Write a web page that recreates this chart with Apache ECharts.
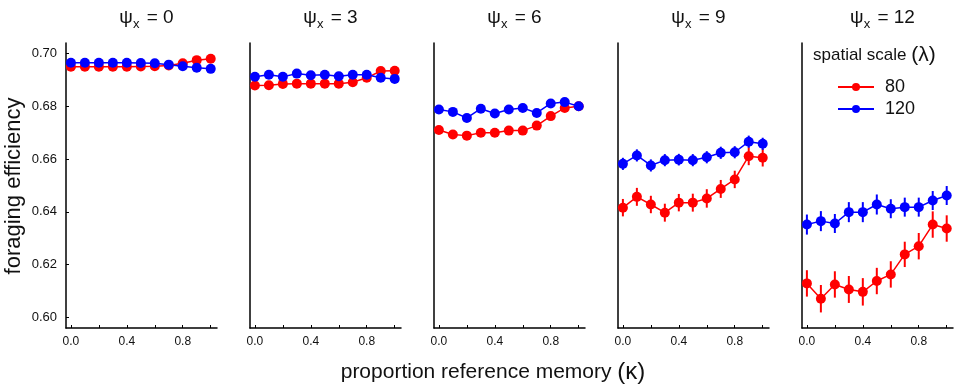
<!DOCTYPE html>
<html>
<head>
<meta charset="utf-8">
<script src="https://cdn.jsdelivr.net/npm/echarts@6/dist/echarts.min.js"></script>
<style>
  html, body { margin: 0; padding: 0; background: #fff; }
  #main { width: 957px; height: 387px; }
</style>
</head>
<body>
<div id="main"></div>
<script>
const kappa = [0, 0.1, 0.2, 0.3, 0.4, 0.5, 0.6, 0.7, 0.8, 0.9, 1.0];
const psiLabels = ['0', '3', '6', '9', '12'];
const xTicks = [0, 0.2, 0.4, 0.6, 0.8, 1.0];
const xTickLabels = [0, 0.4, 0.8];
const yTicks = [0.60, 0.62, 0.64, 0.66, 0.68, 0.70];

// lambda = 80 (red), one list per psi panel
const red0 = [0.6950, 0.6950, 0.6950, 0.6950, 0.6950, 0.6951, 0.6952, 0.6955, 0.6963, 0.6975, 0.6980];
const red3 = [0.6879, 0.6880, 0.6885, 0.6886, 0.6886, 0.6886, 0.6886, 0.6891, 0.6908, 0.6934, 0.6935];
const red6 = [0.6710, 0.6693, 0.6689, 0.6700, 0.6700, 0.6708, 0.6708, 0.6727, 0.6763, 0.6794, 0.6800];
const red9 = [0.6416, 0.6457, 0.6428, 0.6397, 0.6435, 0.6435, 0.6451, 0.6487, 0.6523, 0.6611, 0.6605];
const red12 = [0.6129, 0.6071, 0.6125, 0.6106, 0.6097, 0.6138, 0.6163, 0.6239, 0.6270, 0.6352, 0.6337];

// lambda = 120 (blue)
const blue0 = [0.6965, 0.6965, 0.6965, 0.6965, 0.6965, 0.6964, 0.6963, 0.6958, 0.6952, 0.6946, 0.6942];
const blue3 = [0.6912, 0.6920, 0.6912, 0.6924, 0.6918, 0.6920, 0.6914, 0.6920, 0.6920, 0.6908, 0.6904];
const blue6 = [0.6788, 0.6779, 0.6756, 0.6791, 0.6773, 0.6788, 0.6794, 0.6775, 0.6811, 0.6816, 0.6800];
const blue9 = [0.6582, 0.6614, 0.6576, 0.6596, 0.6598, 0.6596, 0.6607, 0.6624, 0.6626, 0.6666, 0.6658];
const blue12 = [0.6352, 0.6365, 0.6356, 0.6399, 0.6399, 0.6428, 0.6412, 0.6418, 0.6418, 0.6443, 0.6462];

// standard errors
const redErr0 = [0.0003, 0.0003, 0.0003, 0.0003, 0.0003, 0.0003, 0.0003, 0.0003, 0.0003, 0.0003, 0.0003];
const redErr3 = [0.0004, 0.0004, 0.0004, 0.0004, 0.0004, 0.0004, 0.0004, 0.0004, 0.0004, 0.0004, 0.0004];
const redErr6 = [0.0009, 0.0009, 0.0009, 0.0009, 0.0009, 0.0009, 0.0009, 0.0009, 0.0009, 0.0009, 0.0009];
const redErr9 = [0.0033, 0.0034, 0.0033, 0.0034, 0.0033, 0.0034, 0.0035, 0.0034, 0.0033, 0.0034, 0.0033];
const redErr12 = [0.0050, 0.0052, 0.0050, 0.0051, 0.0052, 0.0050, 0.0050, 0.0048, 0.0050, 0.0050, 0.0050];

const blueErr0 = [0.0003, 0.0003, 0.0003, 0.0003, 0.0003, 0.0003, 0.0003, 0.0003, 0.0003, 0.0003, 0.0003];
const blueErr3 = [0.0004, 0.0004, 0.0004, 0.0004, 0.0004, 0.0004, 0.0004, 0.0004, 0.0004, 0.0004, 0.0004];
const blueErr6 = [0.0007, 0.0007, 0.0007, 0.0007, 0.0007, 0.0007, 0.0007, 0.0007, 0.0007, 0.0007, 0.0007];
const blueErr9 = [0.0023, 0.0023, 0.0023, 0.0023, 0.0022, 0.0023, 0.0023, 0.0023, 0.0023, 0.0023, 0.0023];
const blueErr12 = [0.0038, 0.0038, 0.0036, 0.0038, 0.0038, 0.0038, 0.0036, 0.0036, 0.0036, 0.0036, 0.0036];

const redAll = [red0, red3, red6, red9, red12];
const blueAll = [blue0, blue3, blue6, blue9, blue12];
const redErrAll = [redErr0, redErr3, redErr6, redErr9, redErr12];
const blueErrAll = [blueErr0, blueErr3, blueErr6, blueErr9, blueErr12];

const RED = '#f00';
const BLUE = '#00f';
const FONT = 'Liberation Sans, Arial, sans-serif';

const lefts = [66, 250, 434, 618, 802];
const panelW = 151;

const chart = echarts.init(document.getElementById('main'));

const grids = lefts.map(l => ({left: l, top: 43, width: panelW, height: 285}));

const xAxes = lefts.map((l, i) => ({
  type: 'value',
  gridIndex: i,
  min: -0.035,
  max: 1.045,
  axisLine: {onZero: false, lineStyle: {color: '#000', width: 1.5}},
  axisTick: {show: true, inside: true, length: 3, customValues: xTicks, lineStyle: {color: '#000'}},
  axisLabel: {customValues: xTickLabels, formatter: v => v.toFixed(1), fontSize: 12, color: '#111', margin: 8, fontFamily: FONT},
  splitLine: {show: false}
}));

const yAxes = lefts.map((l, i) => ({
  type: 'value',
  gridIndex: i,
  min: 0.596,
  max: 0.704,
  axisLine: {show: true, onZero: false, lineStyle: {color: '#000', width: 1.5}},
  axisTick: {show: i === 0, inside: true, length: 3, customValues: yTicks, lineStyle: {color: '#000'}},
  axisLabel: {show: i === 0, customValues: yTicks, formatter: v => v.toFixed(2), fontSize: 13, color: '#111', margin: 9, fontFamily: FONT},
  splitLine: {show: false}
}));

function errorSeries(i, vals, errs, color) {
  return {
    type: 'custom',
    xAxisIndex: i,
    yAxisIndex: i,
    z: 1,
    silent: true,
    encode: {x: 0, y: [1, 2]},
    data: kappa.map((k, j) => [k, vals[j] - errs[j], vals[j] + errs[j]]),
    renderItem: (params, api) => {
      const lo = api.coord([api.value(0), api.value(1)]);
      const hi = api.coord([api.value(0), api.value(2)]);
      return {
        type: 'line',
        shape: {x1: lo[0], y1: lo[1], x2: hi[0], y2: hi[1]},
        style: {stroke: color, lineWidth: 2}
      };
    }
  };
}

function lineSeries(i, name, vals, color) {
  return {
    type: 'line',
    name: name,
    xAxisIndex: i,
    yAxisIndex: i,
    z: 2,
    symbol: 'circle',
    symbolSize: 10,
    color: color,
    lineStyle: {color: color, width: 1.5},
    itemStyle: {color: color},
    data: kappa.map((k, j) => [k, vals[j]])
  };
}

const series = [];
lefts.forEach((l, i) => {
  series.push(errorSeries(i, redAll[i], redErrAll[i], RED));
  series.push(errorSeries(i, blueAll[i], blueErrAll[i], BLUE));
  series.push(lineSeries(i, '80', redAll[i], RED));
  series.push(lineSeries(i, '120', blueAll[i], BLUE));
});

const titles = psiLabels.map((p, i) => ({
  text: '{g|ψ}{s|x}{g| = ' + p + '}',
  left: lefts[i] + panelW / 2,
  textAlign: 'center',
  top: 0,
  textStyle: {
    rich: {
      g: {fontSize: 19, fontWeight: 'normal', color: '#111', fontFamily: FONT, lineHeight: 26, verticalAlign: 'middle'},
      s: {fontSize: 13, fontWeight: 'normal', color: '#111', fontFamily: FONT, lineHeight: 22, verticalAlign: 'bottom', padding: [0, 2, 0, 0]}
    }
  }
}));

const option = {
  animation: false,
  title: titles,
  grid: grids,
  xAxis: xAxes,
  yAxis: yAxes,
  legend: {
    data: ['80', '120'],
    orient: 'vertical',
    left: 832,
    top: 73,
    itemWidth: 36,
    itemHeight: 10,
    itemGap: 4,
    textStyle: {fontSize: 18, color: '#111', fontFamily: FONT, padding: [0, 0, 0, 6]}
  },
  graphic: [
    {
      type: 'text',
      x: 813,
      y: 55,
      style: {
        text: '{a|spatial scale }{p|(λ)}',
        textVerticalAlign: 'middle',
        rich: {
          a: {fontSize: 17, fill: '#111', fontFamily: FONT},
          p: {fontSize: 21, fill: '#111', fontFamily: FONT}
        }
      }
    },
    {
      type: 'text',
      x: 493,
      y: 372,
      style: {
        text: '{a|proportion reference memory }{p|(κ)}',
        textAlign: 'center',
        textVerticalAlign: 'middle',
        rich: {
          a: {fontSize: 21, fill: '#111', fontFamily: FONT},
          p: {fontSize: 24, fill: '#111', fontFamily: FONT}
        }
      }
    },
    {
      type: 'text',
      x: 14,
      y: 186,
      rotation: Math.PI / 2,
      style: {
        text: 'foraging efficiency',
        textAlign: 'center',
        textVerticalAlign: 'middle',
        fontSize: 22,
        fill: '#111',
        fontFamily: FONT
      }
    }
  ],
  series: series
};

chart.setOption(option);
</script>
</body>
</html>
